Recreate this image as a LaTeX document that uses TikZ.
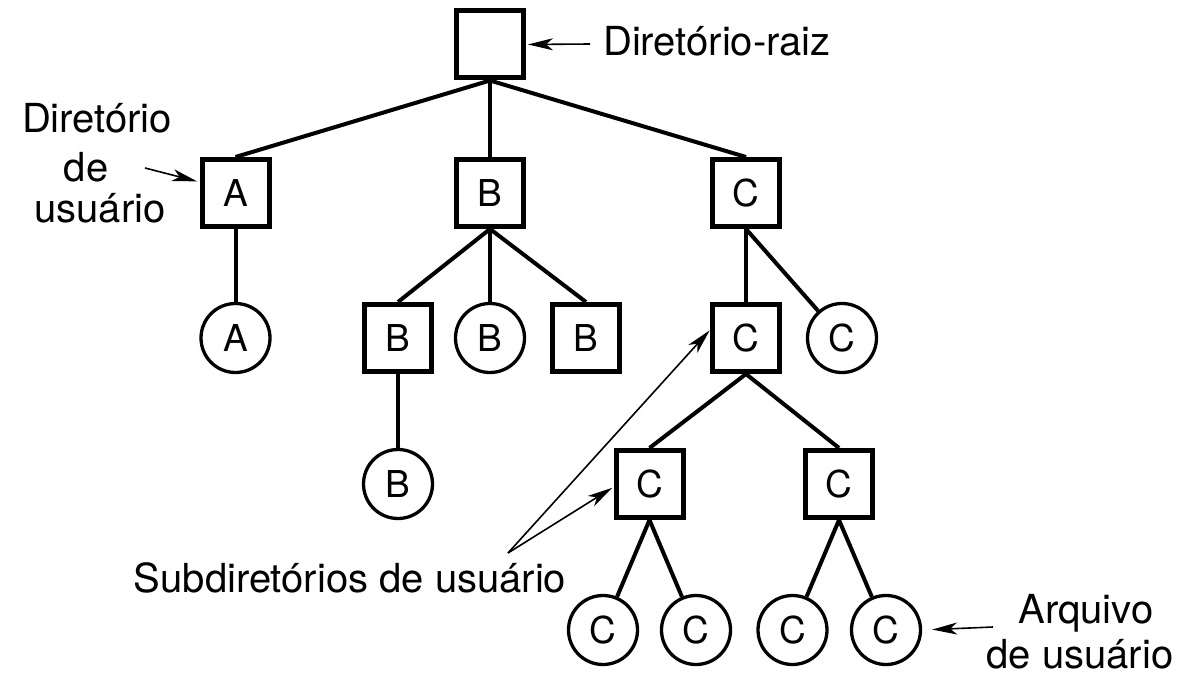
\documentclass[tikz,border=0pt]{standalone}
\usepackage{fontspec}
\setmainfont{TeX Gyre Heros}
\usetikzlibrary{arrows.meta}
\newcommand\nodefont{\fontsize{37}{44}\selectfont}
\newcommand\lblfont{\fontsize{40}{46}\selectfont}
\begin{document}
\begin{tikzpicture}[x=1pt,y=-1pt,
  sq/.style={draw, line width=5pt, minimum size=67pt, inner sep=0pt, font=\nodefont},
  ci/.style={circle, draw, line width=3.3pt, minimum size=69pt, inner sep=0pt, font=\nodefont},
  edge/.style={line width=4pt},
  note/.style={line width=1.6pt, -{Stealth[length=25pt,width=12pt,inset=7pt]}},
  lbl/.style={inner sep=0pt, font=\lblfont}]
\useasboundingbox[fill=white] (0,0) rectangle (1184,685);
% nodes
\node[sq] (root) at (490,44.5) {};
\node[sq] (A) at (235.5,193) {A};
\node[sq] (B) at (490,193) {B};
\node[sq] (C) at (746,193) {C};
\node[ci] (fA) at (235.5,338) {A};
\node[sq] (B1) at (398,338) {B};
\node[ci] (fB) at (490,338) {B};
\node[sq] (B2) at (586,338) {B};
\node[sq] (C1) at (746,338) {C};
\node[ci] (fC) at (842,338) {C};
\node[ci] (fB1) at (398,484) {B};
\node[sq] (C2a) at (649.5,484) {C};
\node[sq] (C2b) at (839,484) {C};
\node[ci] (f1) at (603,630) {C};
\node[ci] (f2) at (696,630) {C};
\node[ci] (f3) at (792.5,630) {C};
\node[ci] (f4) at (886,630) {C};
% edges
\draw[edge] (root.south) -- (A.north);
\draw[edge] (root.south) -- (B.north);
\draw[edge] (root.south) -- (C.north);
\draw[edge] (A.south) -- (fA);
\draw[edge] (B.south) -- (B1.north);
\draw[edge] (B.south) -- (fB);
\draw[edge] (B.south) -- (B2.north);
\draw[edge] (C.south) -- (C1.north);
\draw[edge] (C.south) -- (fC);
\draw[edge] (B1.south) -- (fB1);
\draw[edge] (C1.south) -- (C2a.north);
\draw[edge] (C1.south) -- (C2b.north);
\draw[edge] (C2a.south) -- (f1);
\draw[edge] (C2a.south) -- (f2);
\draw[edge] (C2b.south) -- (f3);
\draw[edge] (C2b.south) -- (f4);
% labels
\node[lbl, anchor=base west] (rootlbl) at (603,56) {Diretório-raiz};
\node[lbl, anchor=base] (dir1) at (97,132) {Diretório};
\node[lbl, anchor=base] (dir2) at (86,181) {de};
\node[lbl, anchor=base] (dir3) at (100,222) {usuário};
\node[lbl, anchor=base] (sub) at (350,592) {Subdiretórios de usuário};
\node[lbl, anchor=base] (arq1) at (1086,623) {Arquivo};
\node[lbl, anchor=base] (arq2) at (1080,668) {de usuário};
% annotation arrows
\coordinate (rt) at (590,44);
\coordinate (dt) at (145,168);
\coordinate (st) at (508,553);
\coordinate (at) at (993,627);
\draw[note, shorten >=2pt] (rt) -- (root.east);
\draw[note, shorten >=2.5pt] (dt) -- ([yshift=11pt]A.west);
\draw[note, shorten >=0.5pt] (st) -- ([yshift=8pt]C1.west);
\draw[note, shorten >=1.5pt] (st) -- ([yshift=-3pt]C2a.west);
\draw[note, shorten >=10pt] (at) -- (f4.east);
\end{tikzpicture}
\end{document}
